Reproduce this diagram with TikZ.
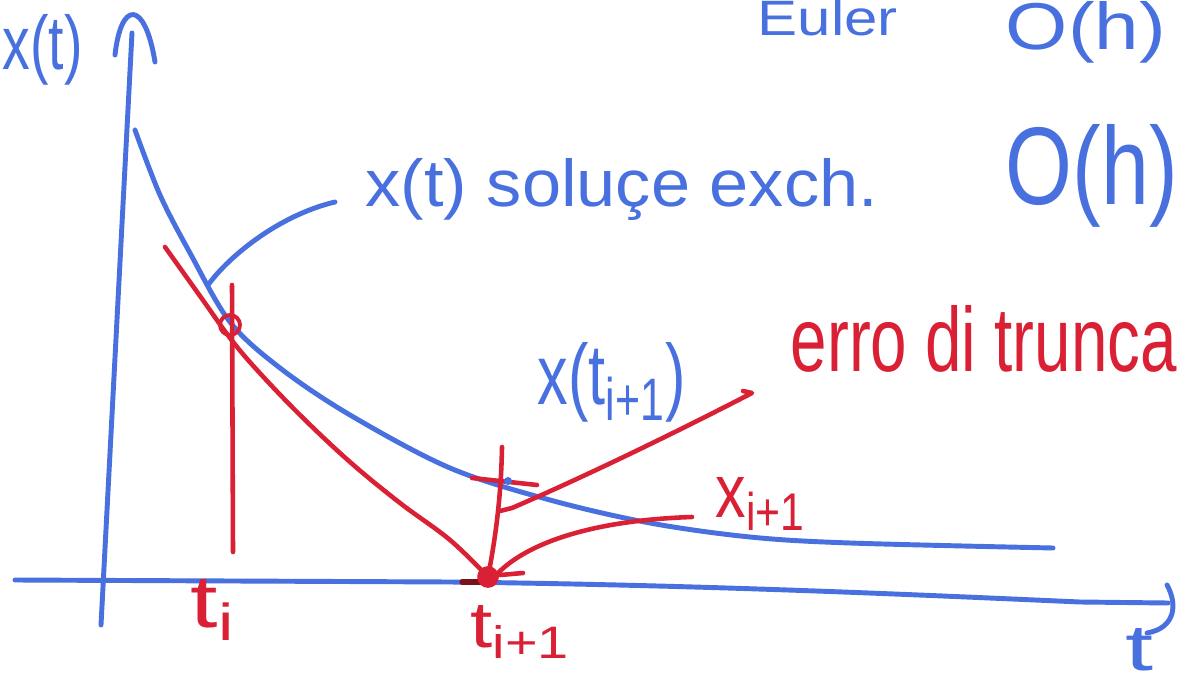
\documentclass[tikz,border=0pt]{standalone}
\usepackage{fontspec}
\setmainfont{Liberation Sans}
\usepackage{graphicx}
\definecolor{pen}{RGB}{72,112,222}
\definecolor{ink}{RGB}{218,32,52}
\newcommand{\hw}[3]{\resizebox{#1}{#2}{#3}}
\begin{document}
\begin{tikzpicture}[x=0.01cm,y=-0.01cm, line cap=round, line join=round,
  bl/.style={draw=pen, line width=1.4pt},
  rd/.style={draw=ink, line width=1.3pt},
  lab/.style={inner sep=0pt, anchor=base west, font=\fontsize{22}{26}\selectfont}]
\useasboundingbox (0,0) rectangle (1180,683);
\fill[white] (0,0) rectangle (1180,683);

% key points
\coordinate (yb) at (101,625);
\coordinate (yt) at (132,33);
\coordinate (xa) at (15,580);
\coordinate (xb) at (1168,603);
\coordinate (ci) at (230,325);
\coordinate (pi1) at (488,577);
\coordinate (tiTop) at (232,285);
\coordinate (tiBot) at (233,552);
\coordinate (tjTop) at (502,447);
\coordinate (tkL) at (472,478);
\coordinate (tkR) at (537,485);
\coordinate (dot) at (508,481);
\coordinate (a1s) at (500,511);
\coordinate (a1e) at (752,393);
\coordinate (a2s) at (692,517);
\coordinate (a2e) at (497,574);
\coordinate (ls) at (208,285);
\coordinate (le) at (335,202);

% axes
\draw[bl] (yb) -- (yt);
\draw[bl] (115,55) .. controls (121,0) and (145,0) .. (155,62);
\draw[bl] (xa) -- (450,582) .. controls (700,585) and (900,594) .. (1080,602) -- (xb);
\draw[bl] (1167,585) .. controls (1178,605) and (1175,628) .. (1147,633);

% exact solution
\draw[bl] plot[smooth, tension=0.55] coordinates {(135,130) (160,195) (190,253) (230,322) (280,368) (350,415) (450,468) (550,500) (650,523) (750,537) (850,543) (1053,548)};
\draw[bl] (ls) .. controls (230,255) and (280,215) .. (le);

% Euler step
\draw[rd] plot[smooth, tension=0.6] coordinates {(165,247) (200,296) (230,338) (257,370) (300,415) (350,462) (400,503) (450,540) (pi1)};
\draw[rd] (tiTop) -- (tiBot);
\draw[ink, line width=1.1pt] (ci) circle (10);
\draw[rd] (tjTop) .. controls (501,500) and (495,540) .. (pi1);
\draw[rd] (tkL) -- (tkR);
\fill[pen] (dot) circle (4);
\draw[ink!55!black, line width=1.5pt] (462,582) -- (492,582);
\draw[ink, line width=1.6pt, fill=ink] (pi1) circle (8);

% arrows
\draw[rd] (a1s) -- (512,508) .. controls (600,470) and (700,420) .. (a1e) -- (743,391);
\draw[rd] (a2s) .. controls (600,520) and (530,540) .. (a2e);
\draw[rd] (500,575) -- (523,573);

% labels
\node[lab, text=pen] (ylab) at (2,70) {\hw{0.8cm}{0.55cm}{x(t)}};
\node[lab, text=pen] (euler) at (757,36) {\hw{1.4cm}{0.36cm}{Euler}};
\node[lab, text=pen] (oh1) at (1005,50) {\hw{1.6cm}{0.48cm}{O(h)}};
\node[lab, text=pen] (oh2) at (1005,205) {\hw{1.72cm}{0.8cm}{O(h)}};
\node[lab, text=pen] (sol) at (365,207) {\hw{5.12cm}{0.48cm}{x(t) soluçe exch.}};
\node[lab, text=pen] (xt) at (537,405) {\hw{1.48cm}{0.62cm}{x(t\textsubscript{i+1})}};
\node[lab, text=ink] (err) at (790,372) {\hw{3.86cm}{0.66cm}{erro di trunca}};
\node[lab, text=ink] (xi1) at (715,517) {\hw{0.9cm}{0.4cm}{x\textsubscript{i+1}}};
\node[lab, text=ink] (ti1) at (470,647) {\hw{1.0cm}{0.42cm}{t\textsubscript{i+1}}};
\node[lab, text=ink] (ti) at (190,627) {\hw{0.45cm}{0.48cm}{t\textsubscript{i}}};
\node[lab, text=pen] (tl) at (1125,670) {\hw{0.28cm}{0.42cm}{t}};
\end{tikzpicture}
\end{document}
